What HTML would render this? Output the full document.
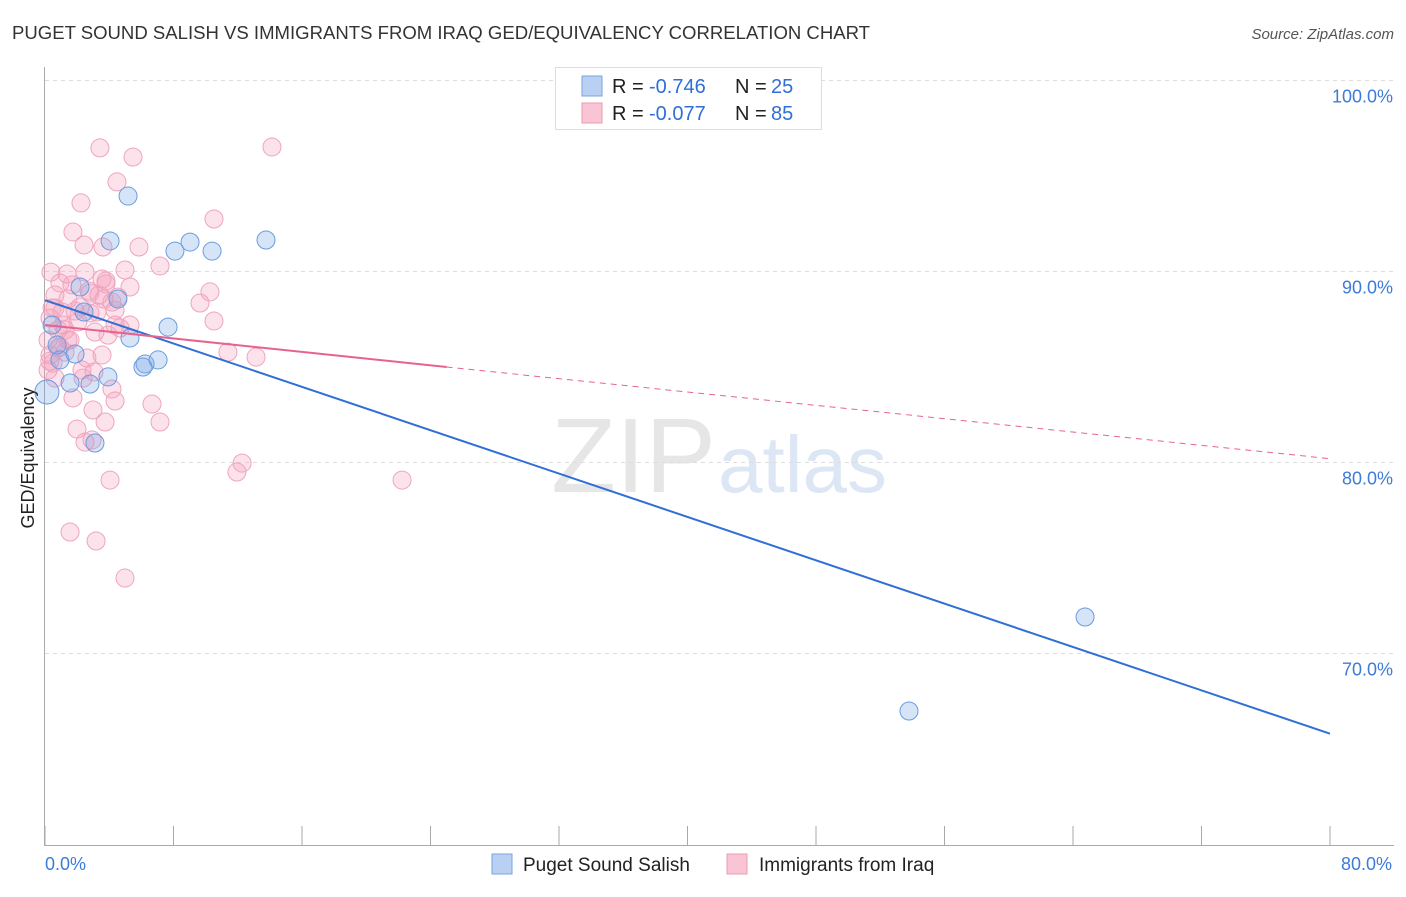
<!DOCTYPE html>
<html><head><meta charset="utf-8"><style>
body{margin:0;background:#fff;font-family:"Liberation Sans",sans-serif}
svg text{font-family:"Liberation Sans",sans-serif}
</style></head><body>
<svg id="chart" width="1406" height="892">
<text x="12" y="39" font-size="18" fill="#333" textLength="858" lengthAdjust="spacingAndGlyphs">PUGET SOUND SALISH VS IMMIGRANTS FROM IRAQ GED/EQUIVALENCY CORRELATION CHART</text>
<text x="1394" y="39" font-size="15" fill="#555" font-style="italic" text-anchor="end">Source: ZipAtlas.com</text>
<text x="716" y="492" font-size="106" fill="#e6e6e6" text-anchor="end" font-family="Liberation Serif">ZIP</text>
<text x="718" y="492" font-size="80" fill="#dde6f4">atlas</text>
<g id="grid"></g>
<g id="axes"></g>
<g id="pts"></g>
<g id="lines"></g>
<text transform="translate(34,458) rotate(-90)" font-size="18" fill="#222" text-anchor="middle">GED/Equivalency</text>
<g>
<rect x="555.5" y="67.5" width="266" height="62" fill="#fff" stroke="#ddd"/>
<rect x="582" y="76" width="20" height="20" fill="#b9d0f2" stroke="#7aa3de"/>
<rect x="582" y="103" width="20" height="20" fill="#f9c5d5" stroke="#eb9bb5"/>
<text y="93" font-size="20" fill="#222"><tspan x="612">R =</tspan><tspan x="649" fill="#2f6fd6">-0.746</tspan><tspan x="735">N =</tspan><tspan x="771" fill="#2f6fd6">25</tspan></text>
<text y="120" font-size="20" fill="#222"><tspan x="612">R =</tspan><tspan x="649" fill="#2f6fd6">-0.077</tspan><tspan x="735">N =</tspan><tspan x="771" fill="#2f6fd6">85</tspan></text>
</g>
<g>
<rect x="492" y="854" width="20" height="20" fill="#b9d0f2" stroke="#7aa3de"/>
<text x="523" y="871" font-size="19" fill="#222">Puget Sound Salish</text>
<rect x="727" y="854" width="20" height="20" fill="#f9c5d5" stroke="#eb9bb5"/>
<text x="759" y="871" font-size="19" fill="#222">Immigrants from Iraq</text>
</g>
</svg>
<script>
const yTicks=[100,90,80,70];
const xTickLabels=["0.0%","80.0%"];
const blueX=[5.17,4.05,8.09,9.03,10.40,13.76,2.18,2.43,4.54,7.66,0.44,1.87,5.29,6.23,7.04,6.10,3.92,1.56,2.80,0.12,3.11,64.75,53.79,0.75,0.93];
const blueY=[93.95,91.6,91.07,91.54,91.07,91.65,89.19,87.88,88.56,87.09,87.2,85.68,86.52,85.16,85.37,85.0,84.48,84.16,84.11,83.69,81.02,71.91,66.99,86.15,85.37];
const pinkX=[3.42,5.48,14.13,4.48,2.24,10.52,1.74,2.43,3.61,5.85,7.16,0.37,1.37,2.49,4.98,3.55,0.93,3.80,5.29,2.80,1.43,4.54,10.27,2.18,9.65,3.36,0.62,4.36,1.06,2.05,4.67,10.52,0.31,1.25,3.11,3.92,0.19,0.81,11.39,13.14,3.55,0.31,1.25,0.50,0.19,2.30,3.05,4.17,1.74,4.36,6.66,2.99,7.16,3.74,1.99,2.49,2.93,4.05,11.95,12.27,22.23,1.56,3.18,4.98,0.62,0.81,1.12,1.56,2.80,3.67,2.61,0.93,1.87,2.74,4.17,0.62,1.43,4.36,0.44,3.24,3.80,2.37,5.29,1.68,0.3];
const pinkY=[96.47,95.99,96.52,94.69,93.59,92.75,92.07,91.39,91.28,91.28,90.29,89.97,89.87,89.97,90.08,89.61,89.40,89.50,89.19,88.87,88.56,88.66,88.93,88.14,88.35,88.77,88.09,87.98,87.88,87.36,87.04,87.41,87.56,86.94,86.83,86.67,86.41,85.99,85.78,85.52,85.63,85.63,85.78,85.21,84.84,84.84,84.74,83.85,83.38,83.22,83.06,82.75,82.12,82.12,81.75,81.07,81.18,79.08,79.50,79.97,79.08,76.36,75.89,73.95,88.77,86.94,87.20,86.41,87.83,88.56,85.47,86.05,87.93,88.98,88.40,84.42,86.41,87.20,88.09,87.88,89.35,84.42,87.20,89.30,85.3];
const blueTrend=[[0,88.5],[80,65.8]];
const pinkTrend=[[0,87.2],[25,85.0],[80,80.2]];
const NS='http://www.w3.org/2000/svg';
const X=v=>45+v/80*1285;
const Y=v=>80.5+(100-v)*19.1;
function mk(tag,attrs,parent){const e=document.createElementNS(NS,tag);for(const k in attrs)e.setAttribute(k,attrs[k]);document.getElementById(parent).appendChild(e);return e;}
yTicks.forEach(t=>{
 const g=mk('line',{x1:45,x2:1394,y1:Y(t),y2:Y(t),stroke:'#ddd','stroke-dasharray':'4,4'},'grid');
 
 
 const l=mk('text',{x:1393,y:Y(t)+22,'font-size':18,fill:'#3d7bd9','text-anchor':'end'},'grid');
 l.textContent=t.toFixed(1)+'%';
 
 
});
const ax=mk('line',{x1:44.5,x2:44.5,y1:67,y2:846,stroke:'#aaa'},'axes');


const bx=mk('line',{x1:45,x2:1394,y1:845.5,y2:845.5,stroke:'#aaa'},'axes');


for(let i=0;i<=10;i++){
 const t=mk('line',{x1:X(i*8),x2:X(i*8),y1:826,y2:846,stroke:'#aaa'},'axes');
 
 
}
[[0,'start'],[80,'end']].forEach((p,i)=>{
 const l=mk('text',{x:X(p[0])+(i?62:0),y:870,'font-size':18,fill:'#3d7bd9','text-anchor':p[1]},'axes');
 l.textContent=xTickLabels[i];
 
 
});
pinkX.forEach((x,i)=>{
 const c=mk('circle',{cx:X(x),cy:Y(pinkY[i]),r:9,fill:'rgba(244,160,188,0.3)',stroke:'#eea5bd','stroke-width':1},'pts');
 
 
});
blueX.forEach((x,i)=>{
 const c=mk('circle',{cx:X(x),cy:Y(blueY[i]),r:i==19?12:9,fill:'rgba(120,165,230,0.3)',stroke:'#6b9be0','stroke-width':1},'pts');
 
 
});
const bl=mk('line',{x1:X(blueTrend[0][0]),y1:Y(blueTrend[0][1]),x2:X(blueTrend[1][0]),y2:Y(blueTrend[1][1]),stroke:'#2f6fd6','stroke-width':2},'lines');


const pl=mk('line',{x1:X(pinkTrend[0][0]),y1:Y(pinkTrend[0][1]),x2:X(pinkTrend[1][0]),y2:Y(pinkTrend[1][1]),stroke:'#e8628f','stroke-width':2},'lines');


const pd=mk('line',{x1:X(pinkTrend[1][0]),y1:Y(pinkTrend[1][1]),x2:X(pinkTrend[2][0]),y2:Y(pinkTrend[2][1]),stroke:'#e8628f','stroke-width':1,'stroke-dasharray':'6,5'},'lines');


</script>
</body></html>
